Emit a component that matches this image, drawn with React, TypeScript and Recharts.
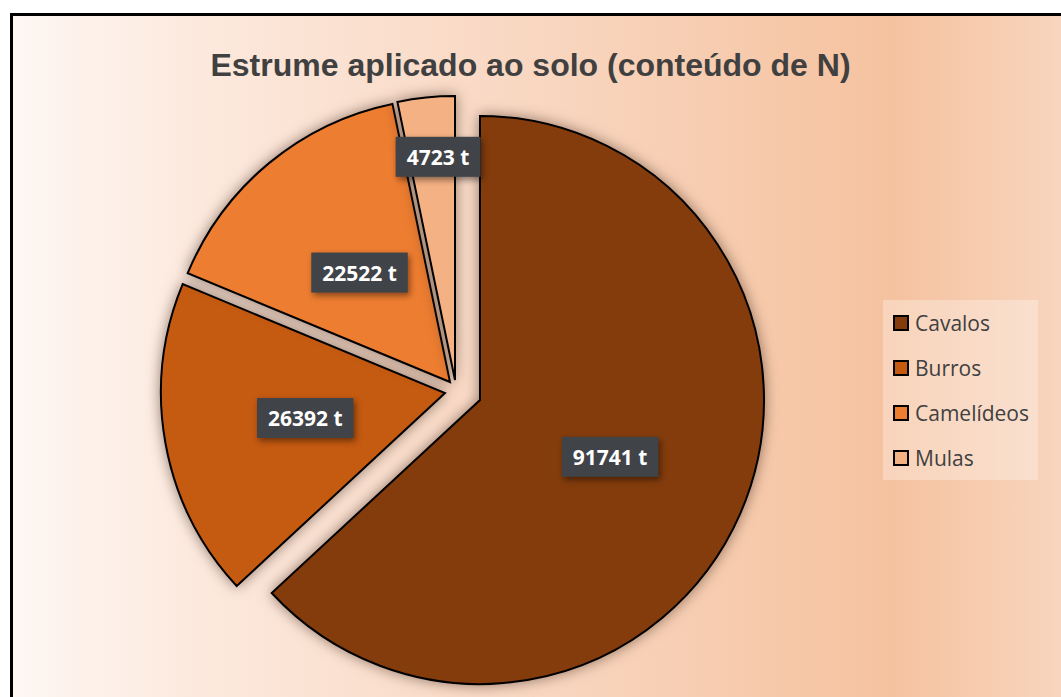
import React from 'react';
import { PieChart, Pie, Cell, Legend } from 'recharts';

const categories = ['Cavalos', 'Burros', 'Camelídeos', 'Mulas'];
const values = [91741, 26392, 22522, 4723];
const unit = 't';
const title = 'Estrume aplicado ao solo (conteúdo de N)';

const data = categories.map((name, i) => ({ name, value: values[i] }));

const COLORS = ['#843c0c', '#c55a11', '#ed7d31', '#f4b183'];
// exploded slice centres (layout)
const CENTERS = [
  [480, 400],
  [445, 393],
  [450, 382],
  [455, 380],
];
const LABEL_RATIO = [0.5, 0.5, 0.5, 0.79];
const LABEL_DX = [0, 0, 0, 6];
const RADIUS = 284;
const RAD = Math.PI / 180;
const FONT = '"Open Sans", "DejaVu Sans", sans-serif';

function makeLabel(k: number) {
  return (props: any) => {
    if (props.index !== k) return null;
    const { cx, cy, midAngle, outerRadius, value } = props;
    const r = outerRadius * LABEL_RATIO[k];
    const x = cx + r * Math.cos(-midAngle * RAD) + LABEL_DX[k];
    const y = cy + r * Math.sin(-midAngle * RAD);
    const text = `${value} ${unit}`;
    const w = text.length * 11.5 + 16;
    const h = 40;
    return (
      <g key={`lbl-${k}`}>
        <rect
          x={x - w / 2}
          y={y - h / 2}
          width={w}
          height={h}
          fill="#404348"
          style={{ filter: 'drop-shadow(2px 3px 3px rgba(0,0,0,0.45))' }}
        />
        <text
          x={x}
          y={y}
          textAnchor="middle"
          dominantBaseline="central"
          fill="#ffffff"
          fontFamily={FONT}
          fontWeight={700}
          fontSize={21}
        >
          {text}
        </text>
      </g>
    );
  };
}

const renderLegend = () => (
  <div
    style={{
      width: 155,
      height: 180,
      background: 'rgba(255,255,255,0.3)',
      fontFamily: FONT,
    }}
  >
    {categories.map((c, i) => (
      <div
        key={c}
        style={{
          height: 45,
          display: 'flex',
          alignItems: 'center',
          paddingLeft: 10,
          boxSizing: 'border-box',
        }}
      >
        <span
          style={{
            display: 'inline-block',
            width: 12,
            height: 12,
            border: '2px solid #000',
            background: COLORS[i],
            marginRight: 6,
          }}
        />
        <span style={{ fontSize: 21, color: '#404040', lineHeight: '24px' }}>{c}</span>
      </div>
    ))}
  </div>
);

export default function App() {
  return (
    <div
      style={{
        position: 'absolute',
        left: 0,
        top: 0,
        width: 1061,
        height: 697,
        overflow: 'hidden',
        background: '#ffffff',
      }}
    >
      <style>{`.recharts-sector { filter: drop-shadow(0px 0px 7px rgba(60,35,20,0.55)); }`}</style>
      <div
        style={{
          position: 'absolute',
          left: 10,
          top: 13,
          width: 1200,
          height: 900,
          border: '3px solid #000',
          background:
            'linear-gradient(to right, #fef7f3 0px, #fce8dc 200px, #f9d8c3 500px, #f5c29f 880px, #f8d5be 1051px)',
        }}
      />
      <div
        style={{
          position: 'absolute',
          left: 0,
          top: 45,
          width: 1061,
          textAlign: 'center',
          fontFamily: '"Liberation Sans", Arial, sans-serif',
          fontWeight: 700,
          fontSize: 32,
          color: '#404040',
          lineHeight: '40px',
        }}
      >
        {title}
      </div>
      <div style={{ position: 'absolute', left: 0, top: 0 }}>
        <PieChart width={1061} height={697} margin={{ top: 0, right: 0, bottom: 0, left: 0 }}>
          {CENTERS.map((c, k) => (
            <Pie
              key={k}
              data={data}
              dataKey="value"
              nameKey="name"
              cx={c[0]}
              cy={c[1]}
              outerRadius={RADIUS}
              startAngle={90}
              endAngle={-270}
              isAnimationActive={false}
              labelLine={false}
              label={makeLabel(k)}
              legendType={k === 0 ? 'square' : 'none'}
            >
              {data.map((d, i) => (
                <Cell
                  key={d.name}
                  fill={i === k ? COLORS[i] : 'none'}
                  stroke={i === k ? '#000' : 'none'}
                  strokeWidth={2}
                />
              ))}
            </Pie>
          ))}
          <Legend
            layout="horizontal"
            align="center"
            verticalAlign="middle"
            content={renderLegend}
            wrapperStyle={{ position: 'absolute', left: 883, top: 300, width: 155, height: 180 }}
          />
        </PieChart>
      </div>
    </div>
  );
}
